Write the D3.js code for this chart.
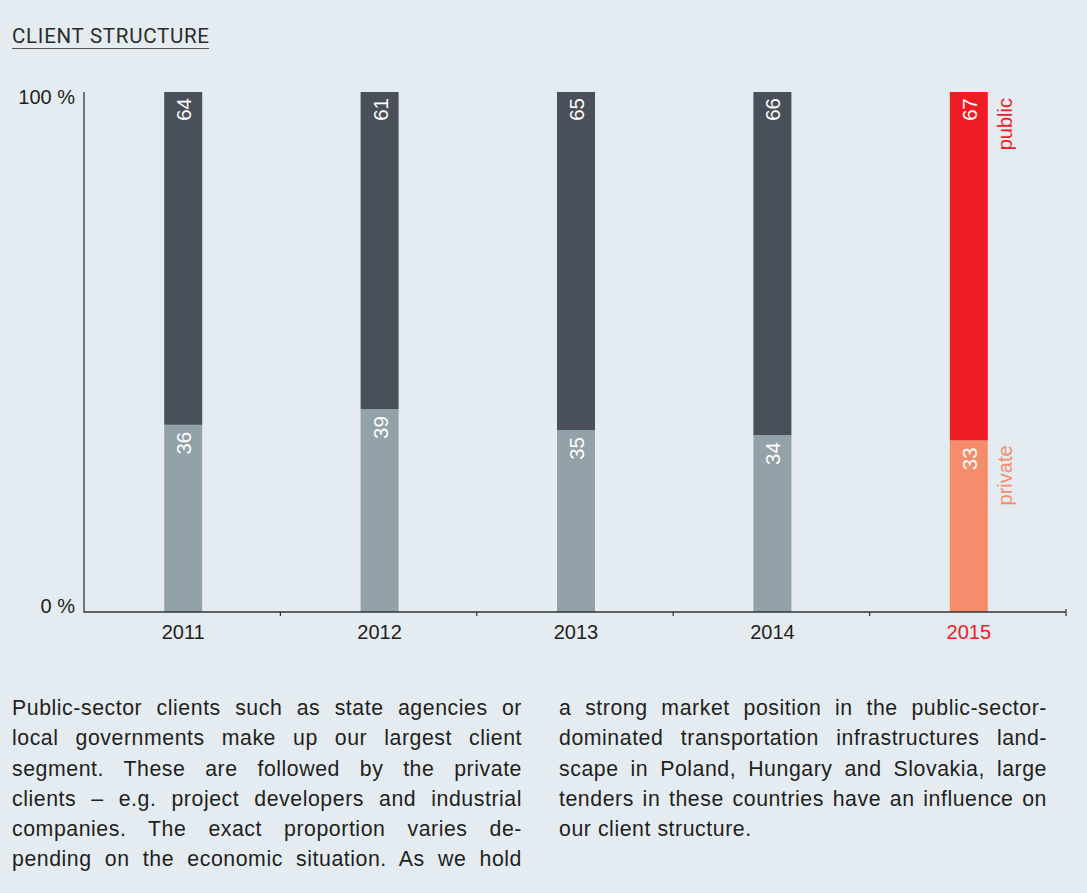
<!DOCTYPE html>
<html><head><meta charset="utf-8">
<script src="https://cdn.jsdelivr.net/npm/d3@7"></script>
<style>
html,body{margin:0;padding:0;background:#e4ecf2;}
#wrap{position:relative;width:1087px;height:893px;background:#e4ecf2;overflow:hidden;}
#wrap svg{position:absolute;left:0;top:0;}
.col{position:absolute;top:693px;font-family:"Liberation Sans",Arial,sans-serif;font-size:21.3px;line-height:30.3px;letter-spacing:0.55px;color:#231f20;}
.col div{text-align:justify;text-align-last:justify;white-space:nowrap;}
.col div.last{text-align-last:left;}
</style></head>
<body><div id="wrap"><svg id="chart" width="1087" height="893"></svg></div>
<script>
const years = ["2011","2012","2013","2014","2015"];
const privateVals = [36,39,35,34,33];
const publicVals = [64,61,65,66,67];
const yTicks = [0,100];
const leftLines = ["Public-sector clients such as state agencies or","local governments make up our largest client","segment. These are followed by the private","clients – e.g. project developers and industrial","companies. The exact proportion varies de-","pending on the economic situation. As we hold"];
const rightLines = ["a strong market position in the public-sector-","dominated transportation infrastructures land-","scape in Poland, Hungary and Slovakia, large","tenders in these countries have an influence on","our client structure."];

const svg = d3.select("#chart");
const font = "'Liberation Sans', Arial, sans-serif";
const x = d3.scaleBand().domain(years).range([84,1066]);
const y = d3.scaleLinear().domain([0,100]).range([612,92]);
const bw = 38;
const colors = {
  pub: d => d==="2015" ? "#ee1c25" : "#4a5059",
  pri: d => d==="2015" ? "#f58d6c" : "#93a1a8"
};

// title
svg.append("text").attr("x",12).attr("y",43).text("CLIENT STRUCTURE")
  .attr("font-family","Roboto, 'Open Sans', sans-serif").attr("font-size",20.5)
  .attr("fill","#2b2b2b").attr("textLength",197).attr("lengthAdjust","spacing");
svg.append("line").attr("x1",12).attr("x2",209).attr("y1",48.5).attr("y2",48.5)
  .attr("stroke","#555").attr("stroke-width",1.2);

const data = years.map((yr,i)=>({yr, pri:privateVals[i], pub:publicVals[i]}));
const cxOf = yr => x(yr)+x.bandwidth()/2+1;
const g = svg.append("g");
g.selectAll(".pri").data(data).join("rect")
  .attr("x",d=>cxOf(d.yr)-bw/2).attr("width",bw)
  .attr("y",d=>y(d.pri)).attr("height",d=>y(0)-y(d.pri))
  .attr("fill",d=>colors.pri(d.yr));
g.selectAll(".pub").data(data).join("rect")
  .attr("x",d=>cxOf(d.yr)-bw/2).attr("width",bw)
  .attr("y",d=>y(d.pri+d.pub)).attr("height",d=>y(d.pri)-y(d.pri+d.pub))
  .attr("fill",d=>colors.pub(d.yr));

// rotated labels, reading bottom-to-top, anchored at their top end
function vlabel(bx, top, txt, color, fs){
  svg.append("text").attr("transform",`translate(${bx},${top}) rotate(-90)`)
    .attr("text-anchor","end")
    .attr("font-family",font).attr("font-size",fs).attr("fill",color).text(txt);
}
data.forEach(d=>{
  const cx = cxOf(d.yr);
  vlabel(cx+8, y(d.pri+d.pub)+6, d.pub, "#fff", 20.5);
  vlabel(cx+8, y(d.pri)+7, d.pri, "#fff", 20.5);
});
const lastX = cxOf("2015");
vlabel(lastX+43, y(100)+6, "public", "#ee1c25", 20);
vlabel(lastX+43, y(privateVals[4])+5, "private", "#f58d6c", 20);

// axes
svg.append("line").attr("x1",84).attr("x2",84).attr("y1",92).attr("y2",612.5)
  .attr("stroke","#333").attr("stroke-width",1.3);
svg.append("line").attr("x1",84).attr("x2",1066).attr("y1",612).attr("y2",612)
  .attr("stroke","#333").attr("stroke-width",1.3);
const bounds = years.slice(1).map(yr=>x(yr)).concat([x.range()[1]]);
svg.selectAll(".xt").data(bounds).join("line")
  .attr("x1",d=>d).attr("x2",d=>d).attr("y1",(d,i)=>i===bounds.length-1?609:612).attr("y2",616)
  .attr("stroke","#333").attr("stroke-width",1.2);
svg.selectAll(".xl").data(years).join("text")
  .attr("x",d=>cxOf(d)).attr("y",639).attr("text-anchor","middle")
  .attr("font-family",font).attr("font-size",20)
  .attr("fill",d=>d==="2015"?"#ee1c25":"#231f20").text(d=>d);
svg.selectAll(".yl").data(yTicks).join("text")
  .attr("x",75).attr("y",d=>d===100?y(d)+12:y(d)+1).attr("text-anchor","end")
  .attr("font-family",font).attr("font-size",20).attr("fill","#231f20")
  .text(d=>d+" %");

// paragraph columns
function col(lines,left,width){
  const c = d3.select("#wrap").append("div").attr("class","col")
    .style("left",left+"px").style("width",width+"px");
  c.selectAll("div").data(lines).join("div").text(d=>d);
  return c;
}
col(leftLines,12,510);
const rc = col(rightLines,559,488);
rc.select("div:last-child").attr("class","last");
</script></body></html>
